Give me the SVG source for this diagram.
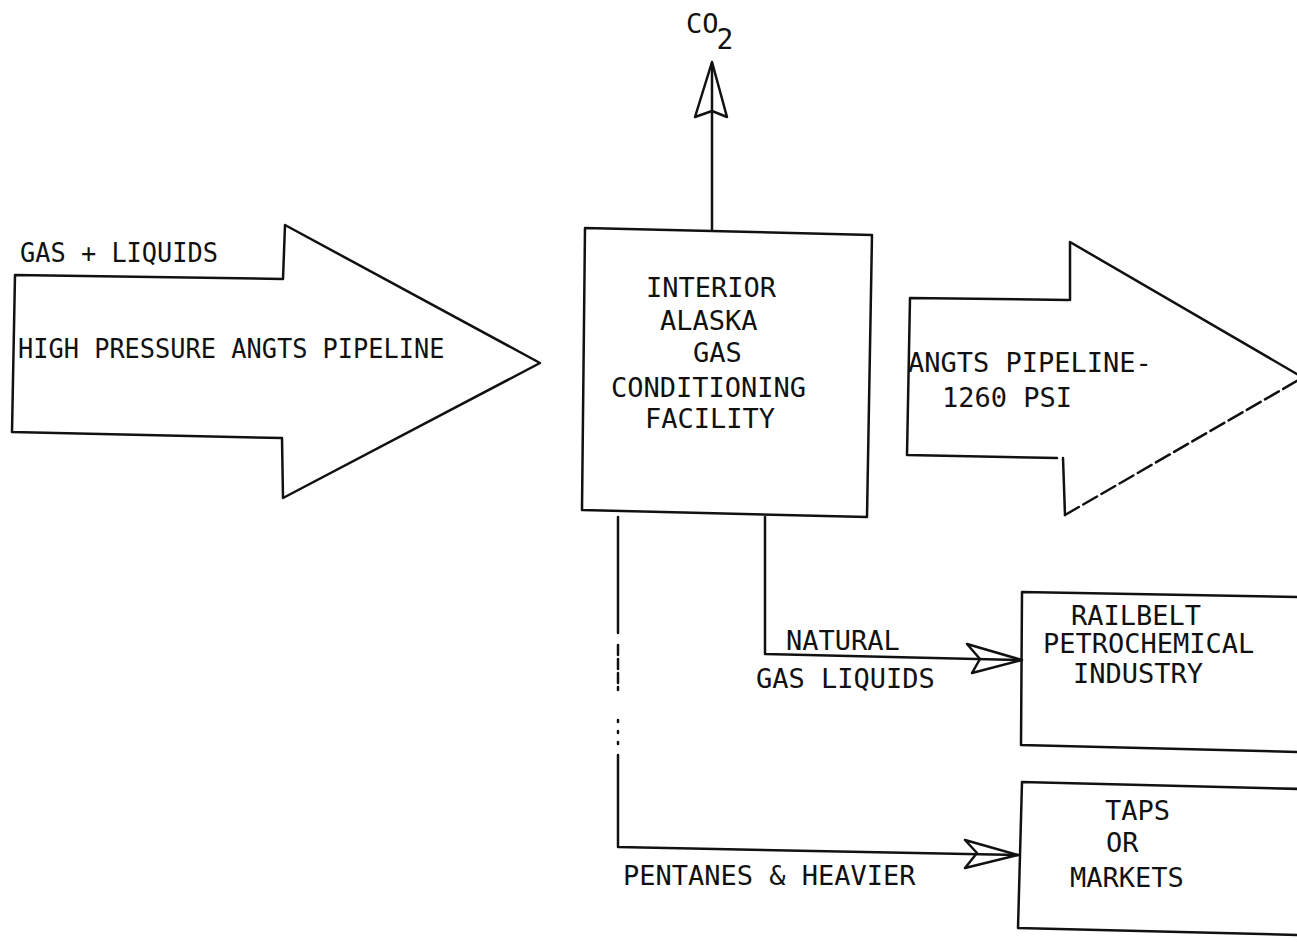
<svg xmlns="http://www.w3.org/2000/svg" width="1297" height="942" viewBox="0 0 1297 942">
<defs>
<style>
.ln{fill:none;stroke:#111;stroke-width:2.5;stroke-linejoin:round;stroke-linecap:round}
.t{font-family:"DejaVu Sans Mono","Liberation Mono",monospace;font-size:27px;fill:#111}
.s{font-size:25.3px}
</style>
</defs>
<rect width="1297" height="942" fill="#fff"/>

<g id="input-arrow">
<path class="ln" d="M15,275 L283,279 L285,225 L540,363 L283,498 L282,438 L12,432 Z"/>
<text class="t s" transform="translate(20,262) scale(1,1.08)">GAS + LIQUIDS</text>
<text class="t s" transform="translate(18,358) scale(1,1.08)">HIGH PRESSURE ANGTS PIPELINE</text>
</g>

<g id="facility">
<path class="ln" d="M585,228 L872,235 L867,517 L582,510 Z"/>
<text class="t" x="646" y="297">INTERIOR</text>
<text class="t" x="660" y="330">ALASKA</text>
<text class="t" x="693" y="362">GAS</text>
<text class="t" x="611" y="397">CONDITIONING</text>
<text class="t" x="645" y="428">FACILITY</text>
</g>

<g id="co2">
<text class="t" x="686" y="33">CO<tspan dx="-2" dy="16" style="font-size:28px">2</tspan></text>
</g>

<g id="output-arrow">
<path class="ln" d="M1070,300 L1070,242 L1302,377"/>
<path class="ln" d="M1057,458 L907,455 L910,298 L1068,300"/>
<path class="ln" d="M1063,458 L1065,515"/>
<path class="ln" d="M1065,515 L1302,378" stroke-dasharray="16 5"/>
<text class="t" x="908" y="372">ANGTS PIPELINE-</text>
<text class="t" x="942" y="407">1260 PSI</text>
</g>

<g id="railbelt">
<path class="ln" d="M1302,597 L1022,592 L1021,745 L1302,752"/>
<text class="t" x="1071" y="625">RAILBELT</text>
<text class="t" x="1043" y="653">PETROCHEMICAL</text>
<text class="t" x="1073" y="683">INDUSTRY</text>
</g>

<g id="taps">
<path class="ln" d="M1302,789 L1022,782 L1018,928 L1302,935"/>
<text class="t" x="1105" y="820">TAPS</text>
<text class="t" x="1106" y="852">OR</text>
<text class="t" x="1070" y="887">MARKETS</text>
</g>

<g id="connectors">
<path class="ln" d="M712,230 L712,64"/>
<path class="ln" d="M712,62 L695,117 L712,111 L727,117 Z"/>
<path class="ln" d="M765,517 L765,654 L1020,660"/>
<path class="ln" d="M967,644 L1022,660 L972,673 L980,659 Z"/>
<path class="ln" d="M618,517 L618,633"/>
<path class="ln" d="M618,645 L618,690" stroke-dasharray="10 4"/>
<path class="ln" d="M618,720 L618,745" stroke-dasharray="2 9"/>
<path class="ln" d="M618,755 L618,847 L1018,855"/>
<path class="ln" d="M965,840 L1018,855 L965,868 L977,853 Z"/>
<text class="t" x="786" y="650">NATURAL</text>
<text class="t" x="756" y="688">GAS LIQUIDS</text>
<text class="t" x="623" y="885">PENTANES &amp; HEAVIER</text>
</g>
</svg>
